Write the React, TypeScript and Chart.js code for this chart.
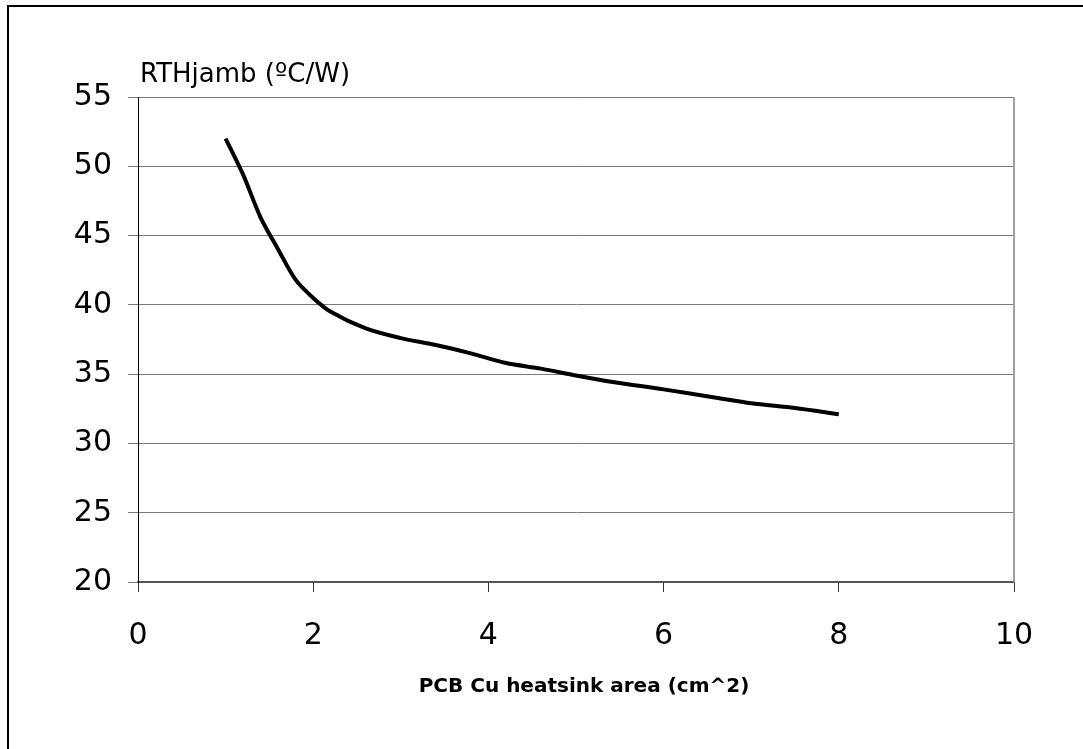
import React, { useEffect, useRef } from "react";
import { Chart, registerables } from "chart.js";

Chart.register(...registerables);

const areaCm2: number[] = [1, 1.2, 1.4, 1.6, 1.8, 2, 2.2, 2.6, 3, 3.4, 3.8, 4.2, 4.6, 5, 5.4, 6, 6.6, 7, 7.5, 8];
const rthJamb: number[] = [52, 49.4, 46.3, 44.0, 41.8, 40.5, 39.5, 38.3, 37.6, 37.1, 36.5, 35.8, 35.4, 34.9, 34.45, 33.9, 33.3, 32.9, 32.55, 32.1];
const xTicks: number[] = [0, 2, 4, 6, 8, 10];
const yTicks: number[] = [20, 25, 30, 35, 40, 45, 50, 55];
const yTitle = "RTHjamb (ºC/W)";
const xTitle = "PCB Cu heatsink area (cm^2)";

const W = 1083;
const H = 749;

export default function App() {
  const ref = useRef<HTMLCanvasElement | null>(null);

  useEffect(() => {
    if (!ref.current) return;
    const textPlugin = {
      id: "texts",
      afterDraw(chart: any) {
        const ctx = chart.ctx;
        const a = chart.chartArea;
        ctx.save();
        // plot-area right border
        ctx.strokeStyle = "#a0a0a0";
        ctx.lineWidth = 2;
        ctx.beginPath();
        ctx.moveTo(a.right, a.top);
        ctx.lineTo(a.right, a.bottom);
        ctx.stroke();
        // y title
        ctx.fillStyle = "#000";
        ctx.font = "26px 'DejaVu Sans'";
        ctx.textAlign = "left";
        ctx.textBaseline = "alphabetic";
        ctx.fillText(yTitle, a.left + 2, 82);
        // x title
        ctx.font = "bold 20px 'DejaVu Sans'";
        ctx.textAlign = "center";
        ctx.fillText(xTitle, (a.left + a.right) / 2 + 8, 692);
        ctx.restore();
      },
    };

    const chart = new Chart(ref.current, {
      type: "line",
      data: {
        datasets: [
          {
            data: areaCm2.map((x, i) => ({ x, y: rthJamb[i] })),
            borderColor: "#000",
            borderWidth: 4,
            pointRadius: 0,
            tension: 0.3,
            fill: false,
          },
        ],
      },
      options: {
        animation: false,
        responsive: false,
        maintainAspectRatio: false,
        layout: { padding: { top: 97, right: 69, left: 0, bottom: 0 } },
        plugins: { legend: { display: false }, tooltip: { enabled: false }, title: { display: false } },
        scales: {
          x: {
            type: "linear",
            min: 0,
            max: 10,
            afterFit: (s: any) => {
              s.height = H - 582 - 0;
            },
            afterBuildTicks: (s: any) => {
              s.ticks = xTicks.map((v) => ({ value: v }));
            },
            ticks: {
              color: "#000",
              font: { family: "'DejaVu Sans'", size: 30 },
              padding: 26,
              maxRotation: 0,
              autoSkip: false,
            },
            grid: {
              drawOnChartArea: false,
              drawTicks: true,
              tickLength: 10,
              color: "#333",
              lineWidth: 1,
            },
            border: { display: true, color: "#555", width: 2 },
          },
          y: {
            min: 20,
            max: 55,
            afterFit: (s: any) => {
              s.width = 138;
            },
            afterBuildTicks: (s: any) => {
              s.ticks = yTicks.map((v) => ({ value: v }));
            },
            ticks: {
              color: "#000",
              font: { family: "'DejaVu Sans'", size: 30 },
              padding: 16,
              autoSkip: false,
            },
            grid: {
              color: "#7a7a7a",
              lineWidth: 1,
              tickLength: 10,
              drawTicks: true,
            },
            border: { display: true, color: "#000", width: 1 },
          },
        },
      },
      plugins: [textPlugin],
    });
    return () => chart.destroy();
  }, []);

  return (
    <div
      style={{
        position: "fixed",
        left: 0,
        top: 0,
        width: W,
        height: H,
        overflow: "hidden",
        background: "#fff",
      }}
    >
      <canvas ref={ref} width={W} height={H} style={{ position: "absolute", left: 0, top: 0, width: W, height: H }} />
      <div
        style={{
          position: "absolute",
          left: 7,
          top: 5,
          width: 1200,
          height: 1000,
          borderTop: "2px solid #000",
          borderLeft: "2px solid #000",
          pointerEvents: "none",
        }}
      />
    </div>
  );
}
